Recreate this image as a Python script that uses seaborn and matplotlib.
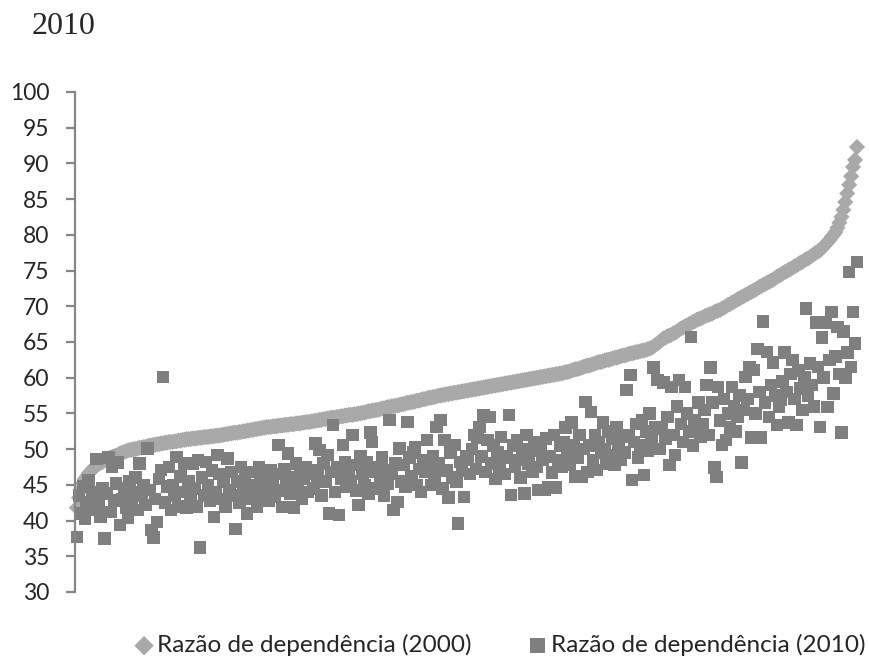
import matplotlib
matplotlib.use("Agg")
import matplotlib.pyplot as plt
import numpy as np
import pandas as pd
import seaborn as sns

# Razão de dependência por município, ordenado pelo valor de 2000
razao_2000 = [
    41.8, 43.2, 44.3, 45.2, 45.8, 46.2, 46.6, 46.9, 47.2, 47.5, 47.7, 47.9, 48.1, 48.2, 48.4, 48.5, 48.7, 48.8, 48.9, 49.0,
    49.1, 49.2, 49.4, 49.5, 49.6, 49.7, 49.8, 49.9, 49.9, 50.0, 50.0, 50.1, 50.2, 50.2, 50.3, 50.3, 50.4, 50.5, 50.5, 50.6,
    50.6, 50.7, 50.7, 50.8, 50.8, 50.9, 50.9, 51.0, 51.0, 51.0, 51.1, 51.1, 51.2, 51.2, 51.3, 51.3, 51.4, 51.4, 51.4, 51.5,
    51.5, 51.5, 51.6, 51.6, 51.6, 51.7, 51.7, 51.7, 51.8, 51.8, 51.8, 51.9, 51.9, 51.9, 52.0, 52.0, 52.1, 52.1, 52.2, 52.2,
    52.3, 52.3, 52.3, 52.4, 52.4, 52.5, 52.5, 52.6, 52.6, 52.7, 52.7, 52.8, 52.8, 52.9, 52.9, 53.0, 53.0, 53.1, 53.1, 53.1,
    53.2, 53.2, 53.2, 53.3, 53.3, 53.3, 53.4, 53.4, 53.4, 53.5, 53.5, 53.5, 53.6, 53.6, 53.6, 53.7, 53.7, 53.8, 53.8, 53.8,
    53.9, 53.9, 54.0, 54.0, 54.1, 54.1, 54.2, 54.2, 54.3, 54.3, 54.4, 54.4, 54.4, 54.5, 54.5, 54.6, 54.6, 54.7, 54.7, 54.8,
    54.8, 54.8, 54.9, 54.9, 55.0, 55.0, 55.1, 55.1, 55.2, 55.3, 55.3, 55.4, 55.4, 55.5, 55.5, 55.6, 55.7, 55.7, 55.8, 55.9,
    55.9, 56.0, 56.0, 56.1, 56.1, 56.2, 56.3, 56.3, 56.4, 56.5, 56.5, 56.6, 56.6, 56.7, 56.8, 56.8, 56.9, 57.0, 57.0, 57.1,
    57.2, 57.2, 57.3, 57.3, 57.4, 57.5, 57.5, 57.6, 57.6, 57.7, 57.7, 57.8, 57.8, 57.9, 57.9, 58.0, 58.0, 58.1, 58.1, 58.2,
    58.2, 58.3, 58.3, 58.4, 58.4, 58.5, 58.5, 58.6, 58.6, 58.7, 58.7, 58.8, 58.8, 58.9, 58.9, 59.0, 59.0, 59.1, 59.1, 59.2,
    59.2, 59.3, 59.3, 59.4, 59.4, 59.5, 59.5, 59.6, 59.6, 59.7, 59.7, 59.8, 59.8, 59.9, 59.9, 60.0, 60.0, 60.1, 60.1, 60.2,
    60.2, 60.3, 60.3, 60.4, 60.4, 60.5, 60.5, 60.6, 60.6, 60.7, 60.8, 60.8, 60.9, 61.0, 61.1, 61.2, 61.2, 61.3, 61.4, 61.5,
    61.6, 61.7, 61.7, 61.8, 61.9, 62.0, 62.1, 62.2, 62.2, 62.3, 62.4, 62.5, 62.5, 62.6, 62.7, 62.8, 62.8, 62.9, 63.0, 63.1,
    63.1, 63.2, 63.3, 63.4, 63.4, 63.5, 63.6, 63.6, 63.7, 63.8, 63.8, 63.9, 64.0, 64.1, 64.2, 64.4, 64.6, 64.8, 65.0, 65.3,
    65.5, 65.6, 65.8, 65.9, 66.0, 66.2, 66.3, 66.5, 66.7, 66.9, 67.0, 67.2, 67.3, 67.5, 67.6, 67.8, 67.9, 68.1, 68.2, 68.3,
    68.4, 68.6, 68.7, 68.8, 68.9, 69.0, 69.2, 69.3, 69.4, 69.5, 69.7, 69.8, 70.0, 70.2, 70.3, 70.5, 70.6, 70.8, 71.0, 71.1,
    71.3, 71.4, 71.6, 71.7, 71.9, 72.0, 72.2, 72.3, 72.5, 72.7, 72.8, 73.0, 73.1, 73.3, 73.4, 73.6, 73.7, 73.9, 74.1, 74.3,
    74.4, 74.6, 74.8, 74.9, 75.1, 75.2, 75.4, 75.6, 75.7, 75.9, 76.1, 76.2, 76.4, 76.6, 76.7, 76.9, 77.1, 77.3, 77.5, 77.7,
    77.8, 78.1, 78.4, 78.7, 79.0, 79.3, 79.7, 80.0, 80.4, 81.0, 81.7, 82.5, 83.5, 84.6, 85.8, 87.0, 88.2, 89.5, 90.5, 92.3,
]

razao_2010 = [
    37.7, 43.5, 41.0, 44.8, 40.2, 42.5, 45.7, 41.5, 44.0, 43.0, 48.6, 42.0, 40.5, 44.5, 37.5, 43.8, 48.8, 41.2, 47.5, 42.8,
    45.2, 48.1, 39.4, 43.0, 44.5, 41.8, 40.4, 45.5, 42.5, 44.0, 46.0, 41.5, 48.0, 43.5, 45.0, 42.2, 50.1, 44.3, 38.7, 37.6,
    43.0, 39.8, 45.8, 47.1, 60.1, 42.5, 44.8, 47.5, 41.5, 45.0, 43.5, 48.9, 42.0, 46.2, 44.0, 48.0, 41.8, 45.5, 43.2, 48.0,
    44.5, 42.0, 48.5, 36.2, 46.0, 43.5, 48.2, 45.0, 42.8, 47.0, 40.5, 44.0, 49.2, 46.5, 43.0, 45.5, 41.9, 48.7, 44.2, 46.8,
    43.5, 38.8, 45.5, 42.5, 47.5, 44.0, 46.2, 41.0, 45.0, 43.0, 46.8, 44.5, 42.0, 47.4, 45.8, 43.3, 46.5, 44.8, 42.8, 47.0,
    45.0, 43.3, 46.5, 50.6, 44.2, 41.9, 47.2, 45.5, 49.4, 43.8, 46.0, 41.8, 48.0, 44.5, 46.8, 43.0, 45.8, 47.5, 44.0, 46.5,
    47.0, 44.5, 50.8, 46.2, 49.9, 43.5, 48.0, 45.5, 49.2, 41.0, 46.8, 53.4, 44.0, 47.5, 40.8, 45.8, 50.6, 48.2, 44.8, 46.5,
    45.5, 52.0, 47.8, 44.2, 42.2, 49.0, 46.5, 45.0, 48.2, 43.8, 52.3, 51.0, 46.8, 44.5, 47.5, 45.8, 48.8, 43.5, 47.0, 45.2,
    54.1, 46.5, 41.5, 48.0, 42.6, 50.1, 45.5, 47.8, 44.8, 53.8, 48.8, 46.2, 49.5, 50.2, 45.0, 47.2, 44.0, 48.5, 46.8, 51.3,
    47.5, 45.0, 49.0, 46.2, 53.1, 48.0, 54.1, 44.5, 51.3, 47.0, 43.2, 49.5, 46.0, 50.6, 45.5, 39.6, 48.2, 47.0, 43.3, 49.0,
    48.5, 46.5, 50.0, 52.0, 47.2, 51.6, 53.1, 49.0, 54.8, 46.8, 51.3, 54.5, 48.0, 50.5, 45.8, 49.5, 47.5, 51.7, 48.8, 46.5,
    49.0, 54.8, 43.6, 50.5, 47.5, 51.3, 48.5, 46.0, 50.0, 43.8, 52.0, 48.0, 49.8, 46.8, 51.0, 47.5, 44.3, 50.2, 48.5, 44.3,
    51.5, 44.7, 49.0, 46.7, 52.0, 44.6, 48.5, 50.5, 47.5, 51.0, 53.0, 49.5, 47.8, 53.7, 50.5, 46.1, 48.8, 52.0, 46.2, 50.0,
    56.6, 46.8, 50.5, 55.2, 48.5, 52.0, 47.1, 51.0, 49.5, 53.7, 50.0, 48.0, 52.5, 49.2, 51.5, 47.8, 53.0, 50.2, 48.5, 51.8,
    49.5, 58.3, 52.0, 60.4, 45.7, 51.0, 53.5, 48.8, 50.5, 54.0, 46.4, 52.5, 49.8, 55.0, 51.2, 61.4, 53.0, 59.7, 50.0, 52.8,
    59.3, 51.5, 54.5, 47.8, 58.7, 52.0, 49.2, 56.0, 59.7, 53.5, 51.0, 58.7, 55.0, 52.5, 65.7, 50.5, 54.0, 53.0, 56.5, 51.8,
    53.5, 55.5, 59.0, 52.0, 61.4, 56.5, 47.4, 46.1, 58.7, 54.0, 50.6, 57.0, 51.3, 55.0, 53.0, 58.7, 56.0, 52.5, 54.5, 57.5,
    48.1, 55.5, 60.1, 57.0, 61.4, 51.6, 61.1, 55.0, 64.0, 58.0, 51.6, 67.9, 56.5, 63.6, 54.5, 59.0, 62.1, 57.5, 53.4, 56.0,
    56.9, 59.5, 63.5, 58.0, 53.7, 60.5, 62.5, 57.0, 53.4, 61.0, 58.5, 55.5, 60.0, 69.7, 57.5, 62.0, 59.0, 56.0, 67.7, 61.5,
    53.1, 65.6, 60.0, 67.7, 55.9, 62.5, 69.2, 57.8, 63.0, 67.1, 60.5, 52.3, 66.5, 60.0, 63.5, 74.8, 61.5, 69.2, 64.8, 76.2,
]

yticks = list(range(30, 101, 5))
label_2000 = "Razão de dependência (2000)"
label_2010 = "Razão de dependência (2010)"

df = pd.DataFrame({"mun": np.arange(len(razao_2000)), "r2000": razao_2000, "r2010": razao_2010})
n = len(df)

sns.set_style("white")
plt.rcParams["font.family"] = ["Lato", "DejaVu Sans"]

fig = plt.figure(figsize=(8.7, 6.59), dpi=100)
ax = fig.add_axes([75 / 870, 1 - 592 / 659, 787 / 870, 500 / 659])

sns.scatterplot(data=df, x="mun", y="r2000", marker="D", s=68, color="#a9a9a9",
                edgecolor="none", linewidth=0, ax=ax, label=label_2000, clip_on=False)
sns.scatterplot(data=df, x="mun", y="r2010", marker="s", s=82, color="#7f7f7f",
                edgecolor="none", linewidth=0, ax=ax, label=label_2010, clip_on=False)

# first point at x=77 px, last at x=857 px
step = 780 / (n - 1)
ax.set_xlim(-2 / step, (n - 1) + 5 / step)
ax.set_ylim(30, 100)
ax.set_yticks(yticks)
ax.set_yticklabels([str(t) for t in yticks], fontsize=16.5)
ax.set_xticks([])
ax.set_xlabel("")
ax.set_ylabel("")
for side in ["top", "right", "bottom"]:
    ax.spines[side].set_visible(False)
ax.spines["left"].set_color("#868686")
ax.spines["left"].set_linewidth(1.6)
ax.tick_params(axis="y", direction="out", length=6.5, width=1.6, color="#868686", pad=12, left=True)

ax.get_legend().remove()
handles, labels = ax.get_legend_handles_labels()
fig.legend(handles, labels, loc="center", bbox_to_anchor=(0.576, 1 - 645 / 659), ncol=2,
           frameon=False, fontsize=17.5, handlelength=0.6, handletextpad=0.25,
           columnspacing=2.4, markerscale=1.2, borderpad=0.2)

fig.text(32 / 870, 1 - 26 / 659, "2010", fontsize=23, family="Liberation Serif", va="center", ha="left")

fig.savefig("out.png", dpi=100)
